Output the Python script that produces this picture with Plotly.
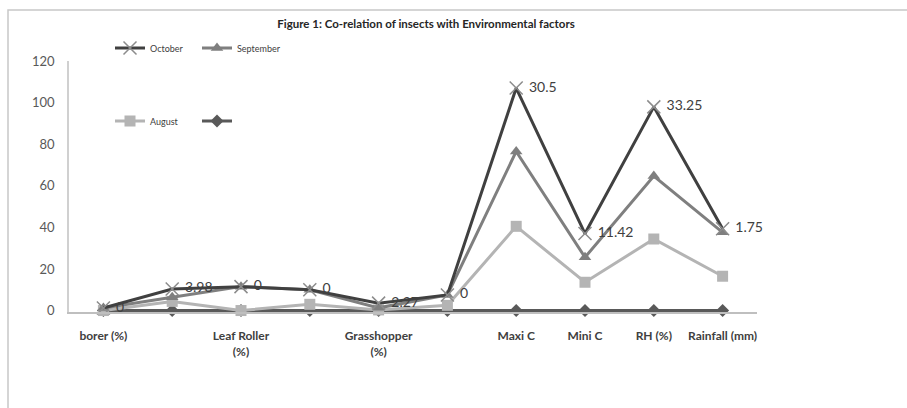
import plotly.graph_objects as go

# Categories along the x axis (blank entries carry no label)
categories = ["borer (%)", "", "Leaf Roller<br>(%)", "", "Grasshopper<br>(%)", "",
              "Maxi C", "Mini C", "RH (%)", "Rainfall (mm)"]

# Stacked series values (each series' own contribution)
base_series = [0, 0, 0, 0, 0, 0, 0, 0, 0, 0]
august = [0, 4.4, 0, 3.0, 0.3, 2.5, 40.5, 13.6, 34.4, 16.5]
september = [1.2, 2.0, 11.5, 7.0, 1.0, 5.0, 36.0, 12.0, 30.3, 21.1]
october = [0, 3.98, 0, 0, 2.27, 0, 30.5, 11.42, 33.25, 1.75]

y_ticks = [0, 20, 40, 60, 80, 100, 120]
y_min, y_max = -0.7, 120

W, H = 907, 408
L, R, T, B = 69, 150, 61, 96
pw, ph = W - L - R, H - T - B


def px_x(p):
    return (p - L) / pw


def px_y(p):
    return (H - B - p) / ph


x = list(range(len(categories)))
font = "Lato, 'Open Sans', sans-serif"

fig = go.Figure()

fig.add_trace(go.Scatter(
    x=x, y=base_series, name=" ", stackgroup="s", fill="none",
    mode="lines+markers", legend="legend2", cliponaxis=False,
    line=dict(color="#595959", width=3),
    marker=dict(symbol="diamond", size=10, color="#595959"),
))
fig.add_trace(go.Scatter(
    x=x, y=august, name="August", stackgroup="s", fill="none",
    mode="lines+markers", legend="legend2", cliponaxis=False,
    line=dict(color="#b4b4b4", width=3),
    marker=dict(symbol="square", size=11, color="#b4b4b4"),
))
fig.add_trace(go.Scatter(
    x=x, y=september, name="September", stackgroup="s", fill="none",
    mode="lines+markers", legend="legend", cliponaxis=False,
    line=dict(color="#7f7f7f", width=3),
    marker=dict(symbol="triangle-up", size=11, color="#7f7f7f"),
))
fig.add_trace(go.Scatter(
    x=x, y=october, name="October", stackgroup="s", fill="none",
    mode="lines+markers+text", legend="legend", cliponaxis=False,
    text=[" " + f"{v:g}" for v in october],
    textposition="middle right",
    textfont=dict(family=font, size=14, color="#404040"),
    line=dict(color="#404040", width=3),
    marker=dict(symbol="x-thin-open", size=13, color="#8c8c8c",
                line=dict(color="#8c8c8c", width=1.5)),
))

fig.update_layout(
    width=W, height=H,
    margin=dict(l=L, r=R, t=T, b=B),
    paper_bgcolor="white", plot_bgcolor="white",
    font=dict(family=font, color="#404040"),
    title=dict(
        text="<b>Figure 1: Co-relation of insects with Environmental factors</b>",
        x=px_x(426), xanchor="center", xref="paper",
        y=1 - 24 / H, yanchor="middle", yref="container",
        font=dict(family=font, size=11.5, color="#262626"),
    ),
    legend=dict(
        orientation="h", traceorder="reversed",
        x=px_x(110), xanchor="left", y=px_y(48), yanchor="middle",
        font=dict(family=font, size=9, color="#404040"),
        bgcolor="rgba(0,0,0,0)", entrywidth=42, itemwidth=30,
    ),
    legend2=dict(
        orientation="h", traceorder="reversed",
        x=px_x(110), xanchor="left", y=px_y(121), yanchor="middle",
        font=dict(family=font, size=9, color="#404040"),
        bgcolor="rgba(0,0,0,0)", entrywidth=42, itemwidth=30,
    ),
    showlegend=True,
)

fig.update_xaxes(
    range=[-0.5, len(categories) - 0.5],
    tickmode="array", tickvals=x, ticktext=[f"<b>{c}</b>" if c else "" for c in categories],
    tickfont=dict(family=font, size=12, color="#404040"),
    showline=True, linecolor="#bfbfbf", linewidth=1.5,
    showgrid=False, zeroline=False, ticks="", ticklabelstandoff=12,
    fixedrange=True,
)
fig.update_yaxes(
    range=[y_min, y_max], tickmode="array", tickvals=y_ticks,
    tickfont=dict(family=font, size=13, color="#595959"),
    showline=True, linecolor="#d0d0d0", linewidth=1.5,
    showgrid=False, zeroline=False, ticks="", ticklabelstandoff=10,
    fixedrange=True,
)

# Chart-area frame
fig.add_shape(type="rect", xref="paper", yref="paper",
              x0=px_x(8), x1=px_x(W + 20), y0=px_y(H + 20), y1=px_y(10),
              line=dict(color="#c8c8c8", width=1.5), fillcolor="rgba(0,0,0,0)",
              layer="below")

fig.write_html("out.html")
